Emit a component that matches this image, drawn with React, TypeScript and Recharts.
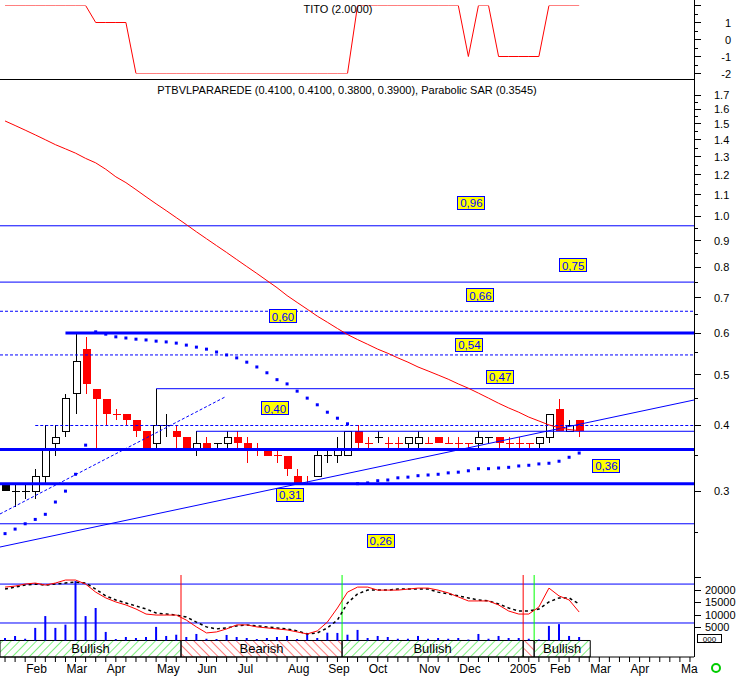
import React from 'react';
import {
  ComposedChart,
  Line,
  Bar,
  Scatter,
  XAxis,
  YAxis,
  ReferenceLine,
  ReferenceArea,
  ReferenceDot,
} from 'recharts';

// weekly candles, Jan 2004 .. Feb 2005
const opens = [
  0.31, 0.30, 0.30, 0.30, 0.32, 0.37, 0.39, 0.46, 0.56, 0.47,
  0.45, 0.42, 0.42, 0.41, 0.39, 0.37, 0.40, 0.39, 0.38, 0.36,
  0.37, 0.37, 0.37, 0.38, 0.37, 0.36, 0.36, 0.35, 0.35, 0.32,
  0.31, 0.32, 0.35, 0.35, 0.35, 0.39, 0.37, 0.38, 0.37, 0.37,
  0.37, 0.37, 0.37, 0.38, 0.37, 0.37, 0.37, 0.37, 0.38, 0.38,
  0.37, 0.37, 0.37, 0.37, 0.38, 0.43, 0.39, 0.41,
];
const highs = [
  0.31, 0.31, 0.31, 0.33, 0.40, 0.40, 0.46, 0.60, 0.59, 0.47,
  0.45, 0.43, 0.42, 0.41, 0.39, 0.47, 0.42, 0.40, 0.38, 0.39,
  0.38, 0.37, 0.39, 0.39, 0.38, 0.37, 0.36, 0.36, 0.35, 0.33,
  0.32, 0.36, 0.36, 0.38, 0.39, 0.40, 0.38, 0.39, 0.38, 0.38,
  0.38, 0.39, 0.38, 0.38, 0.38, 0.38, 0.37, 0.39, 0.38, 0.38,
  0.38, 0.38, 0.37, 0.38, 0.42, 0.45, 0.41, 0.41,
];
const lows = [
  0.30, 0.28, 0.29, 0.29, 0.31, 0.35, 0.38, 0.42, 0.46, 0.36,
  0.40, 0.41, 0.40, 0.38, 0.36, 0.36, 0.38, 0.36, 0.36, 0.35,
  0.36, 0.36, 0.36, 0.36, 0.34, 0.35, 0.35, 0.34, 0.32, 0.31,
  0.31, 0.32, 0.34, 0.34, 0.35, 0.36, 0.36, 0.37, 0.36, 0.36,
  0.36, 0.36, 0.37, 0.37, 0.37, 0.36, 0.36, 0.36, 0.37, 0.36,
  0.36, 0.36, 0.36, 0.36, 0.37, 0.39, 0.39, 0.38,
];
const closes = [
  0.30, 0.30, 0.30, 0.32, 0.36, 0.38, 0.45, 0.53, 0.48, 0.45,
  0.42, 0.42, 0.41, 0.39, 0.36, 0.40, 0.40, 0.38, 0.36, 0.37,
  0.36, 0.37, 0.38, 0.37, 0.36, 0.36, 0.35, 0.35, 0.33, 0.31,
  0.31, 0.35, 0.35, 0.36, 0.39, 0.37, 0.37, 0.38, 0.37, 0.37,
  0.38, 0.38, 0.37, 0.37, 0.37, 0.37, 0.37, 0.38, 0.38, 0.37,
  0.37, 0.37, 0.37, 0.38, 0.42, 0.39, 0.40, 0.39,
];
// k = black, w = white (up), r = red (down)
const tones = ('kkkwwwwwrr' + 'rrrrrwkrrw' + 'rkwrrrrrrr' + 'rwkwwrrkrr' + 'wwrrrrrwkr' + 'rrrwwrwr').split('');

const parabolicSar = [
  0.249, 0.254, 0.260, 0.265, 0.271, 0.286, 0.300, 0.323, 0.367, 0.603,
  0.597, 0.590, 0.587, 0.584, 0.582, 0.579, 0.577, 0.574, 0.569, 0.564,
  0.559, 0.552, 0.545, 0.538, 0.528, 0.517, 0.504, 0.489, 0.480, 0.465,
  0.451, 0.438, 0.424, 0.413, 0.403, 0.310, 0.311, 0.314, 0.315, 0.318,
  0.319, 0.321, 0.322, 0.323, 0.325, 0.326, 0.328, 0.331, 0.331, 0.332,
  0.333, 0.335, 0.336, 0.338, 0.339, 0.342, 0.348, 0.3545,
];
const longAverage = [
  1.52, 1.49, 1.46, 1.43, 1.40, 1.37, 1.345, 1.32, 1.29, 1.265,
  1.23, 1.19, 1.16, 1.125, 1.09, 1.057, 1.026, 0.995, 0.965, 0.935,
  0.907, 0.88, 0.854, 0.828, 0.803, 0.779, 0.755, 0.732, 0.707, 0.686,
  0.666, 0.646, 0.629, 0.612, 0.596, 0.583, 0.571, 0.559, 0.549, 0.538,
  0.528, 0.517, 0.508, 0.499, 0.49, 0.48, 0.471, 0.461, 0.451, 0.441,
  0.432, 0.424, 0.415, 0.408, 0.401, 0.396, 0.393, 0.391,
];
const titoValues = [
  2, 2, 2, 2, 2, 2, 2, 2, 2, 1, 1, 1, 1,
  -2, -2, -2, -2, -2, -2, -2, -2, -2, -2, -2, -2, -2, -2, -2, -2, -2, -2, -2, -2, -2, -2,
  2, 2, 2, 2, 2, 2, 2, 2, 2, 2, 2, -1, 2, 2, -1, -1, -1, -1, -1, 2, 2, 2, 2,
];
const volume = [
  1000, 1800, 700, 5000, 9700, 5000, 6300, 23600, 9700, 12900,
  3400, 600, 1400, 1000, 1400, 5400, 1800, 2300, 1400, 2600,
  700, 600, 2200, 1400, 1000, 600, 1000, 1400, 1800, 600,
  3000, 1000, 3100, 3000, 2300, 4200, 1000, 1800, 1400, 700,
  700, 1800, 700, 1000, 700, 1000, 400, 2600, 700, 1800,
  1000, 1000, 700, 400, 5800, 6500, 1800, 1400,
];
const volFast = [
  21200, 21600, 22400, 22800, 22000, 22800, 24000, 24000, 22400, 19200,
  16900, 15300, 14100, 12500, 10500, 10100, 10100, 10100, 8100, 5400,
  3000, 3400, 4600, 6200, 6200, 5400, 5000, 4600, 4200, 3400,
  2600, 3800, 7300, 12900, 19200, 21200, 21200, 20000, 20000, 20000,
  20400, 20800, 20800, 20000, 18900, 17300, 15700, 15700, 15700, 14100,
  11700, 10500, 10500, 13300, 20800, 17700, 16100, 11300,
];
const volSlow = [
  20400, 21200, 22000, 22400, 22000, 22400, 22800, 23200, 22800, 20400,
  17700, 16100, 14900, 13700, 12500, 10900, 10500, 10100, 9300, 7300,
  5400, 4600, 5000, 5800, 6200, 5800, 5400, 5000, 4600, 3800,
  2600, 3000, 5000, 8100, 14900, 18500, 20000, 20000, 20000, 20400,
  20400, 20400, 20400, 19200, 18500, 17700, 16900, 16100, 15700, 14500,
  12900, 11700, 11700, 12500, 15300, 16900, 16900, 14500,
];

const monthWeeks = [2, 6, 10, 15, 19, 23, 28, 32, 36, 41, 45, 50, 54, 58, 62, 67];
const monthNames = ['Feb', 'Mar', 'Apr', 'May', 'Jun', 'Jul', 'Aug', 'Sep', 'Oct', 'Nov', 'Dec', '2005', 'Feb', 'Mar', 'Apr', 'Ma'];

const priceTicks = [
  0.25, 0.3, 0.35, 0.4, 0.45, 0.5, 0.55, 0.6, 0.65, 0.7, 0.75, 0.8, 0.85, 0.9, 0.95,
  1.0, 1.05, 1.1, 1.15, 1.2, 1.25, 1.3, 1.35, 1.4, 1.45, 1.5, 1.55, 1.6, 1.65, 1.7,
];
const titoTicks = [-2, -1.5, -1, -0.5, 0, 0.5, 1, 1.5, 2];
const volTicks = [5000, 10000, 15000, 20000, 25000];

// support / resistance levels (price, first week)
const solidLevels = [
  { v: 0.96, from: -0.5 }, { v: 0.75, from: -0.5 }, { v: 0.47, from: 15 },
  { v: 0.39, from: 19 }, { v: 0.26, from: -0.5 },
];
const dashedLevels = [{ v: 0.66, from: -0.5 }, { v: 0.545, from: -0.5 }, { v: 0.4, from: 3 }];
const thickLevels = [{ v: 0.6, from: 6 }, { v: 0.36, from: -0.5 }, { v: 0.31, from: -0.5 }];
const supportTrend = [{ w: -0.5, p: 0.2348 }, { w: 68.4, p: 0.4473 }];
const risingTrend = [{ w: -0.5, p: 0.2714 }, { w: 21.84, p: 0.4532 }];

const tags = [
  { v: 0.96, at: 46.3, text: '0,96' }, { v: 0.75, at: 56.4, text: '0,75' },
  { v: 0.66, at: 47.2, text: '0,66' }, { v: 0.6, at: 27.6, text: '0,60' },
  { v: 0.545, at: 46.1, text: '0,54' }, { v: 0.47, at: 49.15, text: '0,47' },
  { v: 0.4, at: 26.8, text: '0,40' }, { v: 0.36, at: 59.7, text: '0,36' },
  { v: 0.31, at: 28.3, text: '0,31' }, { v: 0.26, at: 37.3, text: '0,26' },
];
const tagShift = [-23, -17, -16, -17, -10, -12, -17, 16, 11, 17];

const volumeBands = [22400, 6950];
const signals = [
  { w: 17.47, bull: false }, { w: 33.46, bull: true },
  { w: 51.44, bull: false }, { w: 52.53, bull: true },
];
const phases = [
  { from: -0.5, to: 17.47, bull: true, label: 'Bullish' },
  { from: 17.47, to: 33.46, bull: false, label: 'Bearish' },
  { from: 33.46, to: 51.44, bull: true, label: 'Bullish' },
  { from: 51.44, to: 52.53, bull: false, label: '' },
  { from: 52.53, to: 58.1, bull: true, label: 'Bullish' },
];

const WEEKS = 69;
const xDomain: [number, number] = [-0.5, 68.4];
const weekTicks = Array.from({ length: WEEKS }, (_, i) => i);
const lnDomain: [number, number] = [Math.log(0.2077), Math.log(1.819)];

const rows = Array.from({ length: WEEKS }, (_, i) => {
  const on = i < opens.length;
  return {
    i,
    o: on ? opens[i] : null,
    h: on ? highs[i] : null,
    l: on ? lows[i] : null,
    c: on ? closes[i] : null,
    tone: on ? tones[i] : null,
    range: on ? [Math.log(lows[i]), Math.log(highs[i])] : null,
    ma: on ? Math.log(longAverage[i]) : null,
    tito: on ? titoValues[i] : null,
    vol: on ? volume[i] : null,
    fast: on ? volFast[i] : null,
    slow: on ? volSlow[i] : null,
  };
});
const sarPoints = parabolicSar.map((v, i) => ({ i, s: Math.log(v) }));

const BLUE = '#0000ff';
const RED = '#ff0000';
const GREEN = '#00e000';
const margin0 = { top: 0, right: 0, bottom: 0, left: 0 };

function Candle(props: any) {
  const { x, y, width, height, payload } = props;
  if (!payload || payload.o == null) return null;
  const top = Math.min(y, y + height);
  const bot = Math.max(y, y + height);
  const lh = Math.log(payload.h);
  const ll = Math.log(payload.l);
  const span = lh - ll || 1;
  const py = (v: number) => top + ((lh - Math.log(v)) / span) * (bot - top);
  const xc = Math.round(x + width / 2) + 0.5;
  const ink = payload.tone === 'r' ? RED : '#000';
  const yo = py(payload.o);
  const yc = py(payload.c);
  const b0 = Math.min(yo, yc);
  const b1 = Math.max(yo, yc);
  return (
    <g shapeRendering="crispEdges">
      <line x1={xc} x2={xc} y1={py(payload.h)} y2={py(payload.l)} stroke={ink} />
      {payload.o === payload.c ? (
        <line x1={xc - 4} x2={xc + 4} y1={yo} y2={yo} stroke={ink} />
      ) : payload.tone === 'w' ? (
        <rect x={xc - 3.5} y={b0} width={7} height={b1 - b0} fill="#fff" stroke="#000" />
      ) : (
        <rect x={xc - 4} y={b0} width={8} height={b1 - b0} fill={ink} />
      )}
    </g>
  );
}

function SarDot(props: any) {
  const { cx, cy } = props;
  return <rect x={cx - 1.5} y={cy - 1.5} width={3} height={3} fill={BLUE} />;
}

function Tag({ cx, cy, text }: { cx: number; cy: number; text: string }) {
  return (
    <g>
      <rect x={Math.round(cx - 14) + 0.5} y={Math.round(cy - 7) + 0.5} width={27} height={13} fill="#ffff00" stroke={BLUE} />
      <text x={cx} y={cy} dy={4.5} textAnchor="middle" fontSize={11.5} fill={BLUE}>{text}</text>
    </g>
  );
}

function PriceTick(props: any) {
  const { x, y, payload } = props;
  const p = Math.exp(payload.value);
  const major = Math.abs(p * 10 - Math.round(p * 10)) < 1e-6;
  return (
    <g>
      <line x1={x} x2={x + (major ? 7 : 4)} y1={y} y2={y} stroke="#000" shapeRendering="crispEdges" />
      {major && <text x={x + 20} y={y} dy={4} fontSize={11} fill="#000">{p.toFixed(1)}</text>}
    </g>
  );
}

function TitoTick(props: any) {
  const { x, y, payload } = props;
  const v = payload.value;
  const major = Number.isInteger(v);
  return (
    <g>
      <line x1={x} x2={x + (major ? 7 : 4)} y1={y} y2={y} stroke="#000" shapeRendering="crispEdges" />
      {major && v !== 2 && <text x={x + 37} y={y} dy={4} textAnchor="end" fontSize={11} fill="#000">{v}</text>}
    </g>
  );
}

function VolTick(props: any) {
  const { x, y, payload } = props;
  return (
    <g>
      <line x1={x} x2={x + 7} y1={y} y2={y} stroke="#000" shapeRendering="crispEdges" />
      {payload.value <= 20000 && <text x={x + 11} y={y} dy={3.5} fontSize={11} fill="#000">{payload.value}</text>}
    </g>
  );
}

function MonthTick(props: any) {
  const { x, y, payload } = props;
  const k = monthWeeks.indexOf(payload.value);
  if (k < 0) return null;
  return <text x={x + 1} y={y} dy={9} fontSize={12} fill="#000">{monthNames[k]}</text>;
}

export default function App() {
  return (
    <div style={{ position: 'absolute', left: 0, top: 0, width: 742, height: 676, background: '#fff', overflow: 'hidden', fontFamily: '"Liberation Sans", Arial, sans-serif' }}>
      {/* TITO panel */}
      <div style={{ position: 'absolute', left: 0, top: 0 }}>
        <ComposedChart width={742} height={78} data={rows} margin={{ top: 5.5, right: 0, bottom: 4.5, left: 0 }}>
          <XAxis type="number" dataKey="i" domain={xDomain} ticks={weekTicks} hide allowDataOverflow />
          <YAxis orientation="right" width={48} domain={[-2, 2]} ticks={titoTicks} interval={0} allowDataOverflow
            tick={<TitoTick />} tickLine={false} axisLine={false} tickSize={0} tickMargin={0} />
          <Line dataKey="tito" type="linear" stroke={RED} dot={false} isAnimationActive={false} />
        </ComposedChart>
      </div>

      {/* price panel */}
      <div style={{ position: 'absolute', left: 0, top: 80 }}>
        <ComposedChart width={742} height={495} data={rows} margin={margin0}>
          <XAxis type="number" dataKey="i" domain={xDomain} ticks={weekTicks} hide allowDataOverflow />
          <YAxis orientation="right" width={48} domain={lnDomain} ticks={priceTicks.map(Math.log)} interval={0} allowDataOverflow
            tick={<PriceTick />} tickLine={false} axisLine={false} tickSize={0} tickMargin={0} />
          <Bar dataKey="range" barSize={8} shape={(p: any) => <Candle {...p} />} isAnimationActive={false} />
          {solidLevels.map((l) => (
            <ReferenceLine key={'s' + l.v} ifOverflow="visible" stroke={BLUE} strokeWidth={1}
              segment={[{ x: l.from, y: Math.log(l.v) }, { x: xDomain[1], y: Math.log(l.v) }]} />
          ))}
          {dashedLevels.map((l) => (
            <ReferenceLine key={'d' + l.v} ifOverflow="visible" stroke={BLUE} strokeWidth={1} strokeDasharray="3 2"
              segment={[{ x: l.from, y: Math.log(l.v) }, { x: xDomain[1], y: Math.log(l.v) }]} />
          ))}
          {thickLevels.map((l) => (
            <ReferenceLine key={'t' + l.v} ifOverflow="visible" stroke={BLUE} strokeWidth={3}
              segment={[{ x: l.from, y: Math.log(l.v) }, { x: xDomain[1], y: Math.log(l.v) }]} />
          ))}
          <ReferenceLine ifOverflow="visible" stroke={BLUE} strokeWidth={1}
            segment={supportTrend.map((t) => ({ x: t.w, y: Math.log(t.p) }))} />
          <ReferenceLine ifOverflow="visible" stroke={BLUE} strokeWidth={1} strokeDasharray="3 2"
            segment={risingTrend.map((t) => ({ x: t.w, y: Math.log(t.p) }))} />
          <Line dataKey="ma" type="linear" stroke={RED} strokeWidth={1} dot={false} isAnimationActive={false} />
          <Scatter data={sarPoints} dataKey="s" shape={(p: any) => <SarDot {...p} />} isAnimationActive={false} />
          {tags.map((t, k) => (
            <ReferenceDot key={t.text} x={t.at} y={Math.log(t.v)} ifOverflow="visible"
              shape={(p: any) => <Tag cx={p.cx} cy={p.cy + tagShift[k]} text={t.text} />} />
          ))}
        </ComposedChart>
      </div>

      {/* volume panel, trend band and time axis */}
      <div style={{ position: 'absolute', left: 0, top: 575 }}>
        <ComposedChart width={742} height={101} data={rows} margin={margin0}>
          <defs>
            <pattern id="hatchBull" patternUnits="userSpaceOnUse" width={6} height={6} patternTransform="rotate(45)">
              <line x1={0} y1={0} x2={0} y2={6} stroke={GREEN} strokeWidth={1} />
            </pattern>
            <pattern id="hatchBear" patternUnits="userSpaceOnUse" width={6} height={6} patternTransform="rotate(-45)">
              <line x1={0} y1={0} x2={0} y2={6} stroke={RED} strokeWidth={1} />
            </pattern>
          </defs>
          <XAxis type="number" dataKey="i" domain={xDomain} ticks={weekTicks} interval={0} allowDataOverflow height={19}
            tick={<MonthTick />} tickSize={5} tickLine={{ stroke: '#000' }} axisLine={{ stroke: '#000' }} />
          <YAxis orientation="right" width={48} domain={[-6550, 26000]} ticks={volTicks} interval={0} allowDataOverflow
            tick={<VolTick />} tickLine={false} axisLine={false} tickSize={0} tickMargin={0} />
          {phases.map((ph) => (
            <ReferenceArea key={ph.from} x1={ph.from} x2={ph.to} y1={-6550} y2={0} ifOverflow="visible"
              fill={ph.bull ? 'url(#hatchBull)' : 'url(#hatchBear)'} fillOpacity={1} stroke="#000" strokeWidth={1}
              label={ph.label ? { value: ph.label, position: 'center', fontSize: 13, fill: '#000' } : undefined} />
          ))}
          <Bar dataKey="vol" barSize={2} fill={BLUE} isAnimationActive={false} />
          {volumeBands.map((v) => (
            <ReferenceLine key={v} y={v} stroke={BLUE} strokeWidth={1} ifOverflow="visible" />
          ))}
          {signals.map((s) => (
            <ReferenceLine key={s.w} ifOverflow="visible" stroke={s.bull ? '#00ff00' : RED} strokeWidth={1}
              segment={[{ x: s.w, y: 0 }, { x: s.w, y: 26000 }]} />
          ))}
          <Line dataKey="slow" type="linear" stroke="#000" strokeWidth={1.5} strokeDasharray="3 3" dot={false} isAnimationActive={false} />
          <Line dataKey="fast" type="linear" stroke={RED} strokeWidth={1} dot={false} isAnimationActive={false} />
        </ComposedChart>
      </div>

      <svg width={742} height={676} style={{ position: 'absolute', left: 0, top: 0, pointerEvents: 'none' }}>
        <line x1={0} x2={695} y1={79.5} y2={79.5} stroke="#000" />
        <line x1={694.5} x2={694.5} y1={0} y2={657} stroke="#000" />
        <rect x={697.5} y={634.5} width={24} height={8} fill="#fff" stroke="#000" />
        <text x={709.5} y={641.5} textAnchor="middle" fontSize={8} fill="#000">000</text>
        <circle cx={716} cy={668} r={4} fill="none" stroke="#00cc00" strokeWidth={2} />
      </svg>

      <div style={{ position: 'absolute', left: 238, top: 3, width: 200, textAlign: 'center', fontSize: 11, lineHeight: '13px', color: '#000' }}>
        TITO (2.0000)
      </div>
      <div style={{ position: 'absolute', left: 97, top: 84, width: 500, textAlign: 'center', fontSize: 11, lineHeight: '13px', color: '#000' }}>
        PTBVLPARAREDE (0.4100, 0.4100, 0.3800, 0.3900), Parabolic SAR (0.3545)
      </div>
    </div>
  );
}
